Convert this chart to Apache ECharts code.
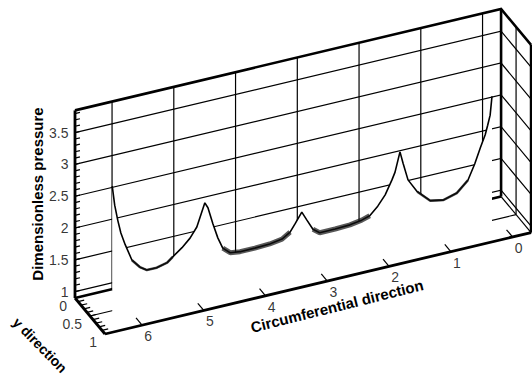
<!DOCTYPE html>
<html>
<head>
<meta charset="utf-8">
<script src="https://cdn.jsdelivr.net/npm/echarts@6/dist/echarts.min.js"></script>
<style>
  html, body { margin: 0; padding: 0; background: #fff; }
  #chart { width: 532px; height: 380px; }
</style>
</head>
<body>
<div id="chart"></div>
<script>
// pressure profile (silhouette, taken at y = 0.5)
var curveTheta = [6.24, 6.20, 6.15, 6.10, 6.03, 5.92, 5.79, 5.68, 5.52, 5.35, 5.26, 5.11, 4.98, 4.87,
  4.74, 4.69, 4.61, 4.53, 4.45, 4.33, 4.17, 3.93, 3.69, 3.49, 3.36, 3.28,
  3.17, 3.09, 2.99, 2.88, 2.63, 2.39, 2.20, 2.07, 1.94, 1.82, 1.71, 1.66,
  1.58, 1.53, 1.45, 1.30, 1.09, 0.88, 0.66, 0.48, 0.37, 0.28, 0.20, 0.16, 0.12, 0.09]
var curveP = [2.86, 2.55, 2.30, 2.09, 1.89, 1.62, 1.48, 1.41, 1.41, 1.45, 1.52, 1.63, 1.75, 1.90,
  2.25, 2.16, 1.89, 1.65, 1.47, 1.37, 1.35, 1.35, 1.36, 1.39, 1.47, 1.58,
  1.74, 1.60, 1.43, 1.35, 1.35, 1.36, 1.39, 1.43, 1.55, 1.70, 1.91, 2.02,
  2.32, 2.13, 1.85, 1.63, 1.44, 1.40, 1.46, 1.62, 1.85, 2.08, 2.27, 2.41, 2.56, 2.85]
var curveY = 0.5

// axes
var thetaTicks = [0, 1, 2, 3, 4, 5, 6]
var pTicks = [1, 1.5, 2, 2.5, 3, 3.5]
var yTicks = [0, 0.5, 1]
var thetaRange = [-0.3, 6.6]
var pRange = [0.9, 3.85]
var yRange = [0, 1]

// oblique projection of the box onto the page (pixels)
var O = [75, 298]          // corner theta=max, y=0, p=min
var TX = 61.75, TY = 14.7  // per unit theta
var YX = 30, YY = 36       // per unit y
var PY = 63.6              // per unit p
function proj(t, y, p) {
  var dt = thetaRange[1] - t
  return [O[0] + dt * TX + y * YX, O[1] - dt * TY + y * YY - (p - pRange[0]) * PY]
}

var tMin = thetaRange[0], tMax = thetaRange[1]
var pMin = pRange[0], pMax = pRange[1]

// thin grid on back wall, right wall and floor
var grid = []
thetaTicks.forEach(t => grid.push([proj(t, 0, pMin), proj(t, 0, pMax)]))
pTicks.forEach(p => grid.push([proj(tMax, 0, p), proj(tMin, 0, p), proj(tMin, 1, p)]))
grid.push([proj(tMin, 0.5, pMin), proj(tMin, 0.5, pMax)])
grid.push([proj(tMax, 0.5, pMin), proj(tMin, 0.5, pMin)])
grid.push([proj(tMin, 0, pMin), proj(tMin, 1, pMin)])
thetaTicks.forEach(t => grid.push([proj(t, 0, pMin), proj(t, 0.22, pMin)]))

// heavy box edges behind the surface
var frame = [
  [proj(tMax, 0, pMax), proj(tMin, 0, pMax), proj(tMin, 1, pMax)],
  [proj(tMin, 0, pMin), proj(tMin, 0, pMax)],
  [proj(tMax, 0, pMin), proj(tMin, 0, pMin)],
  [proj(tMin, 1, pMin), proj(tMin, 1, pMax)]
]

// axes in front
var axes = [
  [proj(tMax, 0, pMin), proj(tMax, 0, pMax)],
  [proj(tMax, 0, pMin), proj(tMax, 1, pMin)],
  [proj(tMax, 1, pMin), proj(tMin, 1, pMin)]
]
var ticks = []
thetaTicks.forEach(t => ticks.push([proj(t, 1, pMin), proj(t, 0.8, pMin)]))
for (var k = 10; k <= 38; k++) ticks.push([proj(tMax, 0, k / 10), proj(tMax - 0.08, 0, k / 10)])
for (var k = 0; k <= 10; k++) ticks.push([proj(tMax, k / 10, pMin), proj(tMax - 0.1, k / 10, pMin)])

var curve = curveTheta.map((t, i) => proj(t, curveY, curveP[i]))
function part(a, b) { return curve.slice(a, b) }

function linesSeries(list, width, z) {
  return {
    type: 'lines', coordinateSystem: 'cartesian2d', polyline: true, silent: true, z: z,
    data: list.map(c => ({ coords: c })),
    lineStyle: { color: '#000', width: width, opacity: 1 }
  }
}
function labelSeries(points, texts, lab) {
  return {
    type: 'scatter', symbolSize: 1, silent: true, z: 6,
    itemStyle: { color: 'rgba(0,0,0,0)' },
    data: points.map((p, i) => [p[0], p[1], texts[i]]),
    label: Object.assign({
      show: true, formatter: d => d.value[2], color: '#000',
      fontSize: 14, fontFamily: 'Liberation Sans, Arial, sans-serif'
    }, lab)
  }
}
function bandSeries(pts, w) {
  return {
    type: 'line', data: pts, symbol: 'none', silent: true, z: 3,
    lineStyle: { color: '#111', width: w, opacity: 0.7 }
  }
}

var chart = echarts.init(document.getElementById('chart'), null, { renderer: 'svg' })
chart.setOption({
  animation: false,
  grid: { left: 0, right: 0, top: 0, bottom: 0 },
  xAxis: { type: 'value', min: 0, max: 532, show: false },
  yAxis: { type: 'value', min: 0, max: 380, inverse: true, show: false },
  graphic: [
    { type: 'text', x: 37, y: 194, rotation: Math.PI / 2, z: 10,
      style: { text: 'Dimensionless pressure', font: 'bold 15px "Liberation Sans", Arial, sans-serif',
        fill: '#000', textAlign: 'center', textVerticalAlign: 'middle', align: 'center', verticalAlign: 'middle' } },
    { type: 'text', x: 337, y: 306, rotation: 0.245, z: 10,
      style: { text: 'Circumferential direction', font: 'bold 15px "Liberation Sans", Arial, sans-serif',
        fill: '#000', textAlign: 'center', textVerticalAlign: 'middle', align: 'center', verticalAlign: 'middle' } },
    { type: 'text', x: 40, y: 345, rotation: -0.8, z: 10,
      style: { text: 'y direction', font: 'bold 14px "Liberation Sans", Arial, sans-serif',
        fill: '#000', textAlign: 'center', textVerticalAlign: 'middle', align: 'center', verticalAlign: 'middle' } }
  ],
  series: [
    linesSeries(grid, 1.2, 1),
    linesSeries(frame, 2.6, 1),
    {
      type: 'line', data: curve, symbol: 'none', silent: true, z: 2,
      lineStyle: { color: '#000', width: 1.6 },
      areaStyle: { color: '#fff', opacity: 1, origin: 'end' }
    },
    bandSeries(part(18, 25), 5),
    bandSeries(part(28, 34), 5),
    bandSeries(part(5, 11), 2.5),
    bandSeries(part(41, 46), 2.5),
    linesSeries(axes, 2.8, 4),
    linesSeries(ticks, 1.2, 4),
    labelSeries(pTicks.map(p => proj(tMax, 0, p)), pTicks.map(String),
      { position: 'left', distance: 6 }),
    labelSeries(thetaTicks.map(t => proj(t, 1, pMin)), thetaTicks.map(String),
      { position: 'inside', offset: [6, 11] }),
    labelSeries(yTicks.map(y => proj(tMax, y, pMin)), yTicks.map(String),
      { position: 'inside', align: 'right', offset: [-8, 8] })
  ]
})
</script>
</body>
</html>
